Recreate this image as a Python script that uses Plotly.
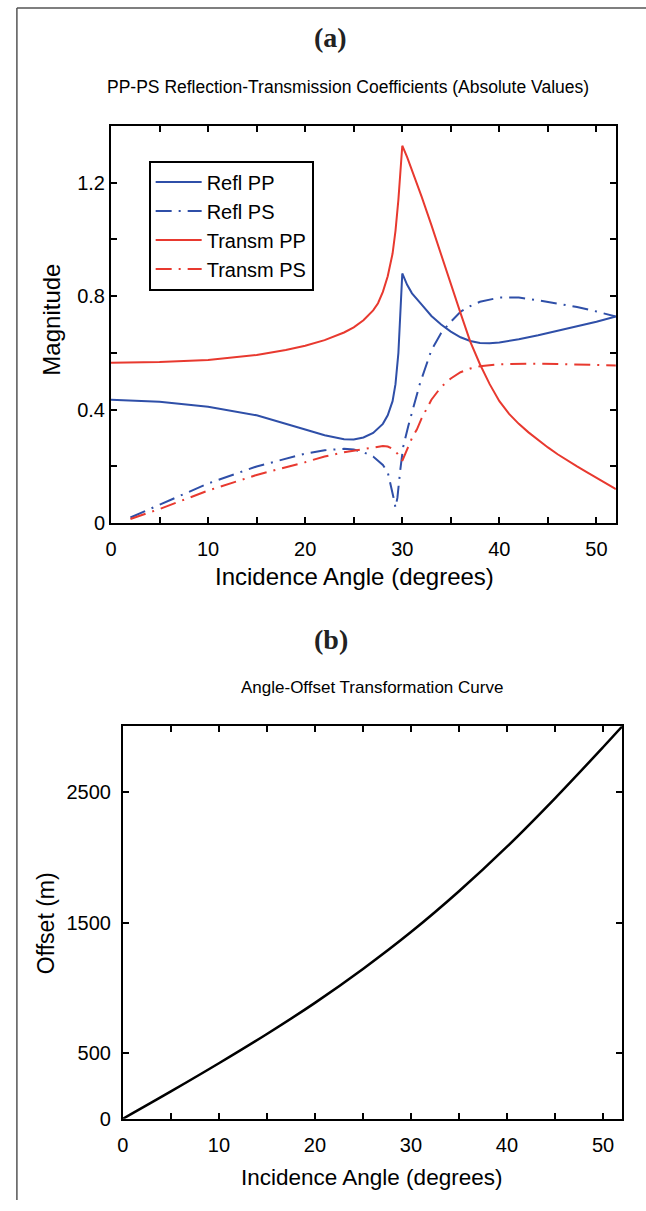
import plotly.graph_objects as go

W, H = 646, 1211

# ---------------- Panel (a) data ----------------
ang_rpp = [0, 5, 10, 15, 20, 22, 24, 25, 26, 27, 28, 28.5, 29, 29.3, 29.6, 29.8, 30,
           30.5, 31, 32, 33, 34, 35, 36, 37, 38, 39, 40, 42, 44, 46, 48, 50, 52]
refl_pp = [0.435, 0.428, 0.41, 0.38, 0.33, 0.31, 0.296, 0.295, 0.302, 0.318, 0.35, 0.38,
           0.43, 0.49, 0.60, 0.72, 0.88,
           0.84, 0.81, 0.77, 0.73, 0.70, 0.675, 0.655, 0.642, 0.635, 0.634, 0.637,
           0.648, 0.662, 0.678, 0.693, 0.71, 0.728]

ang_tpp = [0, 5, 10, 15, 18, 20, 22, 24, 25, 26, 27, 27.5, 28, 28.5, 29, 29.3, 29.6, 29.8, 30,
           30.5, 31, 32, 33, 34, 35, 36, 37, 38, 39, 40, 41, 42, 43, 44, 45, 46, 47,
           48, 49, 50, 51, 52]
transm_pp = [0.565, 0.568, 0.575, 0.593, 0.61, 0.625, 0.645, 0.672, 0.69, 0.715, 0.75,
             0.775, 0.815, 0.87, 0.95, 1.03, 1.14, 1.23, 1.33,
             1.29, 1.245, 1.15, 1.05, 0.945, 0.84, 0.74, 0.64, 0.56, 0.49, 0.43,
             0.385, 0.35, 0.32, 0.293, 0.267, 0.243, 0.22, 0.20, 0.18, 0.16, 0.14, 0.12]

ang_rps = [2, 5, 10, 15, 20, 22, 24, 25, 26, 27, 28, 28.5, 28.8, 29.1, 29.3, 29.5, 29.8,
           30.1, 30.6, 31.1, 31.8, 33, 34, 35, 36, 37, 38, 40, 42, 44, 46, 48, 50, 52]
refl_ps = [0.02, 0.065, 0.14, 0.20, 0.245, 0.257, 0.262, 0.26, 0.25, 0.235, 0.205, 0.18,
           0.14, 0.09, 0.055, 0.09, 0.19, 0.27, 0.34, 0.40, 0.49, 0.61, 0.67, 0.71,
           0.745, 0.765, 0.78, 0.795, 0.795, 0.785, 0.774, 0.762, 0.746, 0.728]

ang_tps = [2, 5, 10, 15, 20, 22, 24, 26, 27, 28, 28.5, 29, 29.5, 30, 30.5, 31, 31.5, 32,
           33, 34, 35, 36, 37, 38, 40, 42, 44, 46, 48, 50, 52]
transm_ps = [0.015, 0.05, 0.115, 0.17, 0.215, 0.235, 0.25, 0.262, 0.268, 0.272, 0.27,
             0.262, 0.245, 0.22, 0.26, 0.30, 0.33, 0.37, 0.435, 0.48, 0.51, 0.532,
             0.545, 0.553, 0.56, 0.562, 0.562, 0.561, 0.56, 0.558, 0.556]

# ---------------- Panel (b) data ----------------
ang_b = [0, 5, 10, 15, 20, 25, 30, 35, 40, 45, 50, 52]
offset_b = [0, 209, 424, 648, 886, 1145, 1427, 1739, 2080, 2450, 2840, 3000]

# ticks
xa_tickvals = [0, 5, 10, 15, 20, 25, 30, 35, 40, 45, 50]
xa_ticktext = ["0", "", "10", "", "20", "", "30", "", "40", "", "50"]
ya_tickvals = [0, 0.2, 0.4, 0.6, 0.8, 1.0, 1.2, 1.4]
ya_ticktext = ["0", "", "0.4", "", "0.8", "", "1.2", ""]
yb_tickvals = [0, 500, 1500, 2500]
yb_ticktext = ["0", "500", "1500", "2500"]

BLUE = "#2f4fa8"
RED = "#e8392f"
DASHDOT = "16px,7px,2px,7px"
SANS = "Liberation Sans, Arial, sans-serif"

fig = go.Figure()
fig.add_trace(go.Scatter(x=ang_rpp, y=refl_pp, name="Refl PP", mode="lines",
                         line=dict(color=BLUE, width=2), xaxis="x", yaxis="y"))
fig.add_trace(go.Scatter(x=ang_rps, y=refl_ps, name="Refl PS", mode="lines",
                         line=dict(color=BLUE, width=2, dash=DASHDOT), xaxis="x", yaxis="y"))
fig.add_trace(go.Scatter(x=ang_tpp, y=transm_pp, name="Transm PP", mode="lines",
                         line=dict(color=RED, width=2), xaxis="x", yaxis="y"))
fig.add_trace(go.Scatter(x=ang_tps, y=transm_ps, name="Transm PS", mode="lines",
                         line=dict(color=RED, width=2, dash=DASHDOT), xaxis="x", yaxis="y"))
fig.add_trace(go.Scatter(x=ang_b, y=offset_b, mode="lines", showlegend=False,
                         line=dict(color="black", width=2.5, shape="spline"),
                         xaxis="x2", yaxis="y2"))

def px_x(p):
    return p / W

def px_y(p):
    return 1 - p / H

axis_common = dict(showline=True, linecolor="black", linewidth=2, mirror="allticks",
                   ticks="inside", ticklen=6, tickwidth=1.5, tickcolor="black",
                   showgrid=False, zeroline=False,
                   tickfont=dict(family=SANS, size=20, color="black"))

fig.update_layout(
    width=W, height=H,
    margin=dict(l=0, r=0, t=0, b=0),
    paper_bgcolor="white", plot_bgcolor="white",
    xaxis=dict(domain=[px_x(106), px_x(615.6)], range=[0, 52], anchor="y",
               tickvals=xa_tickvals, ticktext=xa_ticktext, ticklabelstandoff=7,
               **axis_common),
    yaxis=dict(domain=[px_y(528), px_y(127)], range=[0, 1.4], anchor="x",
               tickvals=ya_tickvals, ticktext=ya_ticktext, **axis_common),
    xaxis2=dict(domain=[px_x(118), px_x(622)], range=[0, 52], anchor="y2",
                tickvals=xa_tickvals, ticktext=xa_ticktext, ticklabelstandoff=7,
                **axis_common),
    yaxis2=dict(domain=[px_y(1129), px_y(733)], range=[0, 3000], anchor="x2",
                tickvals=yb_tickvals, ticktext=yb_ticktext, ticklabelstandoff=6,
                **axis_common),
    legend=dict(x=px_x(144), y=px_y(162), xanchor="left", yanchor="top",
                bordercolor="black", borderwidth=2, bgcolor="white",
                font=dict(family=SANS, size=20, color="black"),
                itemwidth=46, tracegroupgap=0,
                entrywidth=148, entrywidthmode="pixels"),
    showlegend=True,
)

annos = [
    dict(text="<b>(a)</b>", x=px_x(328), y=px_y(38),
         font=dict(family="Liberation Serif, Times New Roman, serif", size=28, color="#222")),
    dict(text="PP-PS Reflection-Transmission Coefficients (Absolute Values)",
         x=px_x(345), y=px_y(88), font=dict(family=SANS, size=17.5, color="black")),
    dict(text="Magnitude", x=px_x(45), y=px_y(323), textangle=-90,
         font=dict(family=SANS, size=24, color="black")),
    dict(text="Incidence Angle (degrees)", x=px_x(352), y=px_y(582),
         font=dict(family=SANS, size=24, color="black")),
    dict(text="<b>(b)</b>", x=px_x(328), y=px_y(645),
         font=dict(family="Liberation Serif, Times New Roman, serif", size=28, color="#222")),
    dict(text="Angle-Offset Transformation Curve", x=px_x(369), y=px_y(694),
         font=dict(family=SANS, size=17, color="black")),
    dict(text="Offset (m)", x=px_x(40), y=px_y(932), textangle=-90,
         font=dict(family=SANS, size=23, color="black")),
    dict(text="Incidence Angle (degrees)", x=px_x(369), y=px_y(1188),
         font=dict(family=SANS, size=22.5, color="black")),
]
for a in annos:
    a.update(xref="paper", yref="paper", showarrow=False, xanchor="center", yanchor="middle")
fig.update_layout(annotations=annos)

fig.update_layout(shapes=[
    dict(type="line", xref="paper", yref="paper", x0=px_x(11), x1=1.0,
         y0=px_y(8), y1=px_y(8), line=dict(color="#555", width=1.5)),
    dict(type="line", xref="paper", yref="paper", x0=px_x(11), x1=px_x(11),
         y0=px_y(8), y1=0, line=dict(color="#555", width=1.5)),
])

fig.write_html("out.html")
